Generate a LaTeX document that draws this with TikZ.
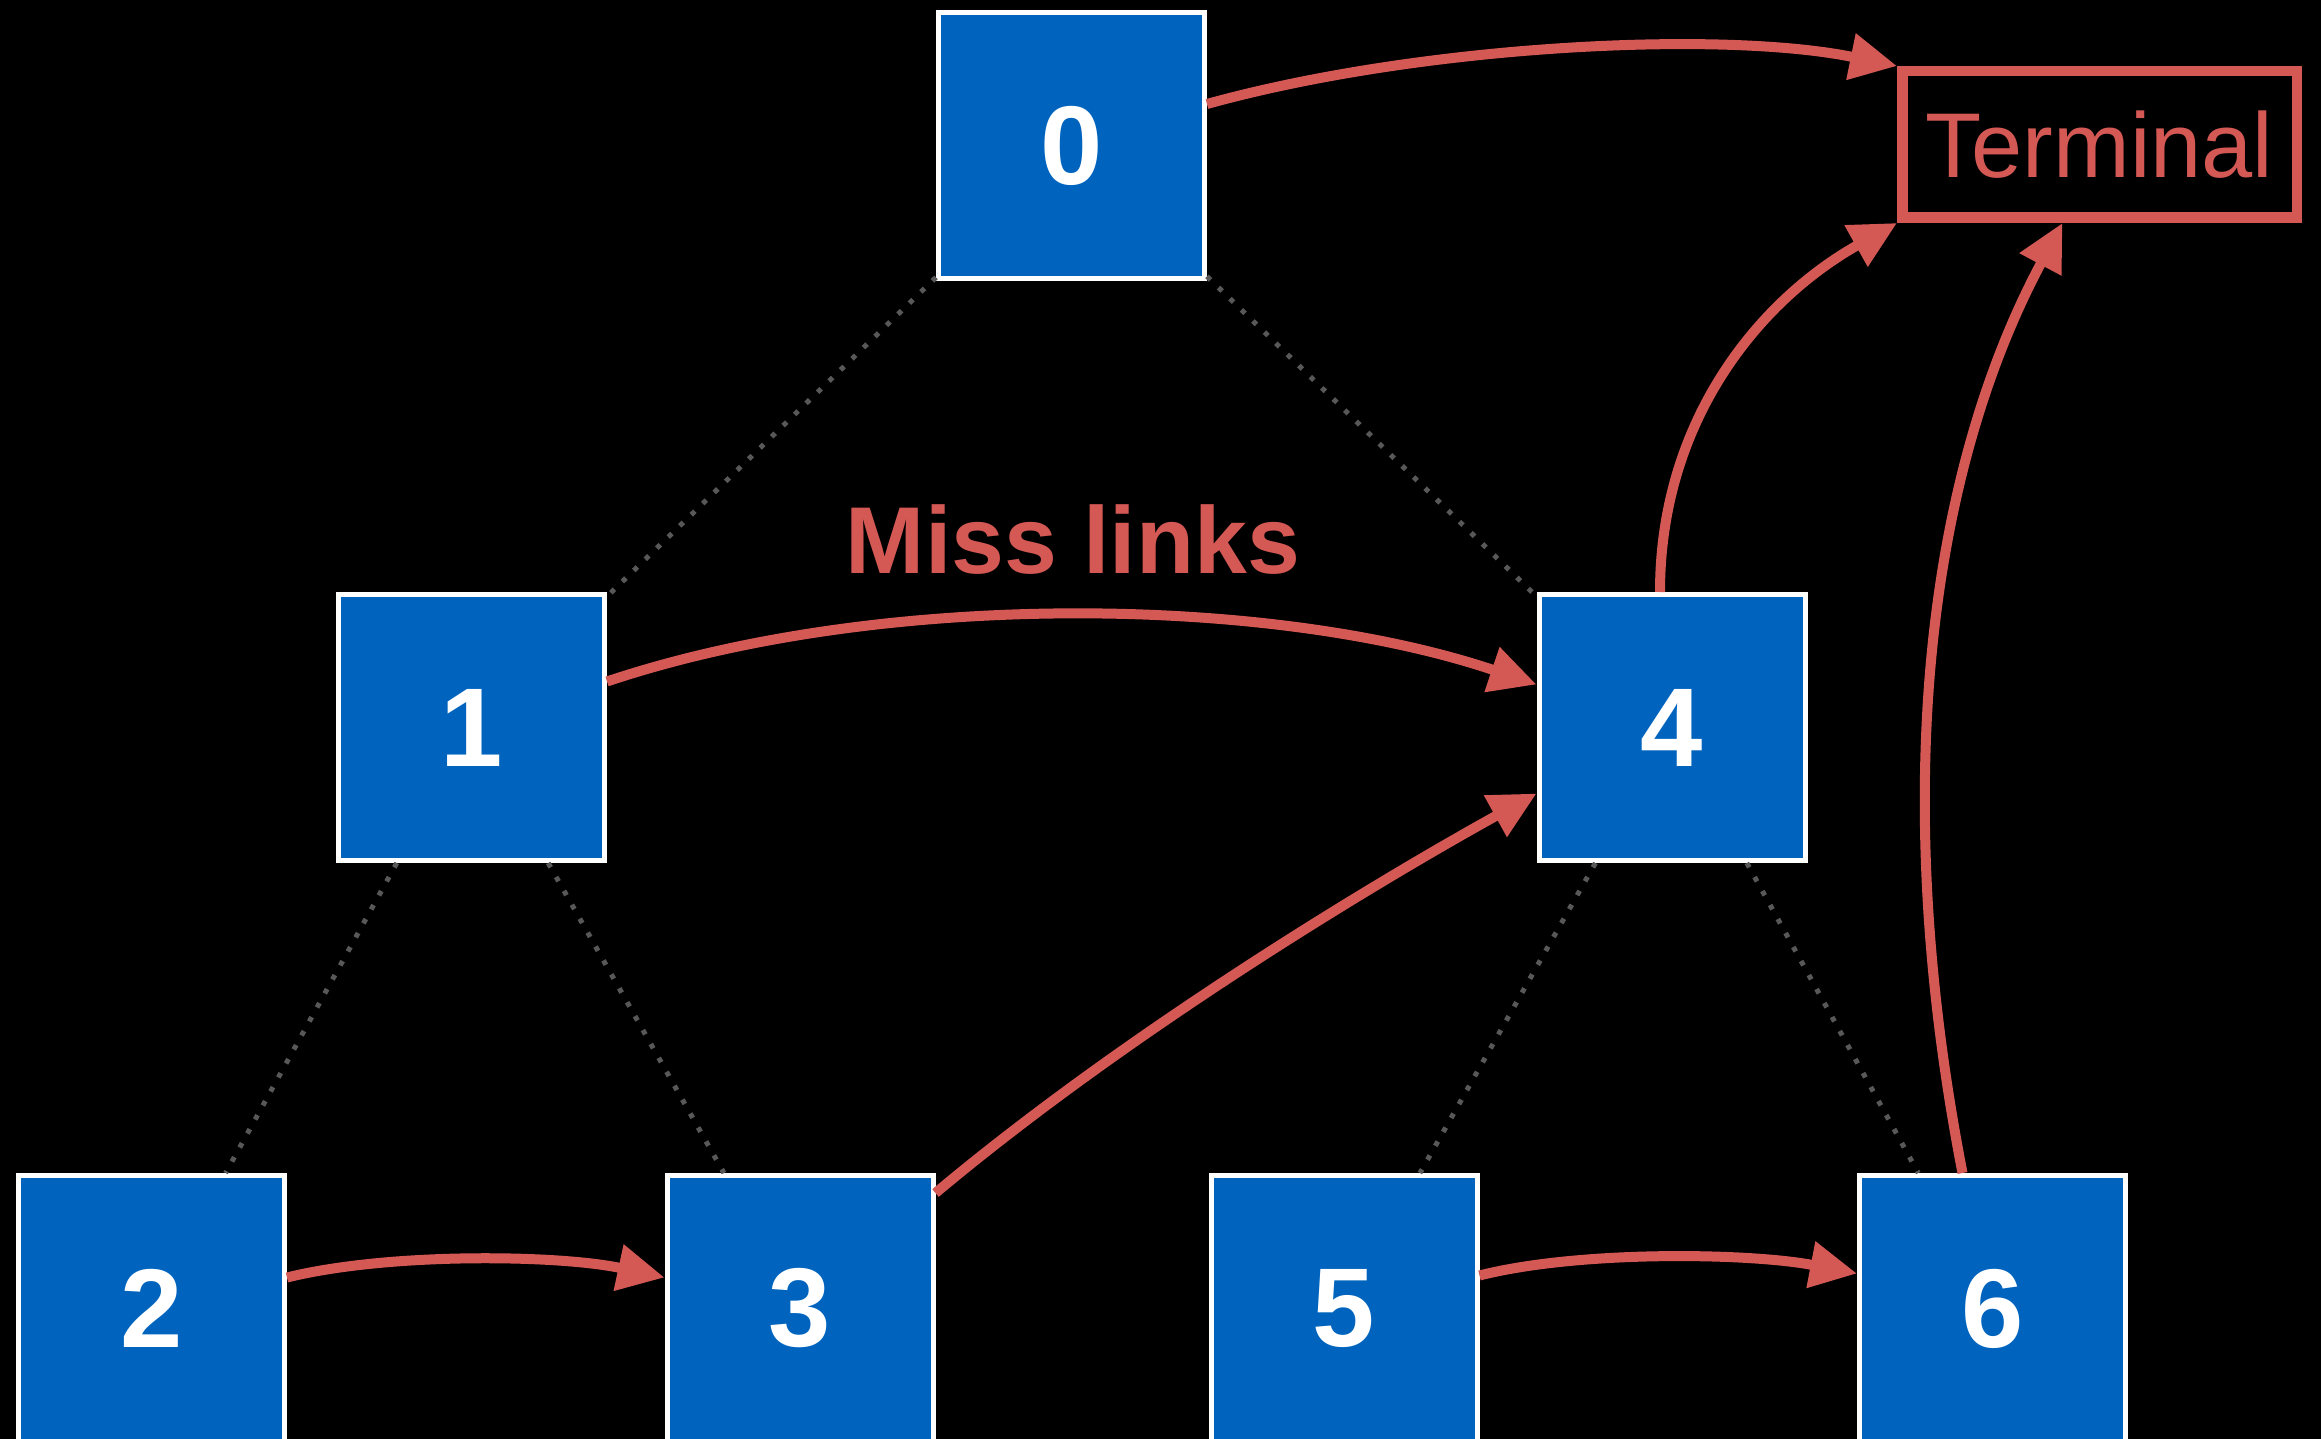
\documentclass[tikz,border=0pt]{standalone}
\usepackage{fontspec}
\setmainfont{Liberation Sans}
\usetikzlibrary{arrows.meta,calc}
\definecolor{boxblue}{RGB}{0,100,190}
\definecolor{linkred}{RGB}{212,88,84}
\definecolor{dotgray}{RGB}{88,88,88}
\begin{document}
\begin{tikzpicture}[x=1pt,y=-1pt,
  treenode/.style={draw=white, line width=5pt, fill=boxblue, minimum size=266pt, inner sep=0pt, text=white, font=\fontsize{112}{112}\selectfont\bfseries},
  treeedge/.style={dotgray, line width=5pt, dash pattern=on 5pt off 11pt},
  link/.style={linkred, line width=10pt, -{Triangle[length=47pt,width=45pt]}},
  termbox/.style={draw=linkred, line width=10.5pt, minimum width=394.5pt, minimum height=146.5pt, inner sep=0pt, text=linkred, font=\fontsize{92}{92}\selectfont},
  lbl/.style={text=linkred, font=\fontsize{95}{95}\selectfont\bfseries, anchor=base, inner sep=0pt}
]
\fill[black] (0,0) rectangle (2321,1439);
\useasboundingbox (0,0) rectangle (2321,1439);

\node[treenode] (n0) at (1071.5,146) {0};
\node[treenode] (n1) at (471.5,727.5) {1};
\node[treenode] (n4) at (1672,727.5) {4};
\node[treenode] (n2) at (151.5,1308.5) {2};
\node[treenode] (n3) at (800,1308.5) {3};
\node[treenode] (n5) at (1344,1308.5) {5};
\node[treenode] (n6) at (1992.5,1308.5) {6};
\node[termbox] (T) at (2099.5,144.5) {Terminal};
\node[lbl] (miss) at (1073,573) {Miss links};

\draw[treeedge] (n0) -- (n1);
\draw[treeedge] (n0) -- (n4);
\draw[treeedge] (n1) -- (n2);
\draw[treeedge] (n1) -- (n3);
\draw[treeedge] (n4) -- (n5);
\draw[treeedge] (n4) -- (n6);

\draw[link] ($(n0.east)+(0,-42)$) .. controls (1420,45) and (1720,30) .. (T.north west);
\draw[link] ($(n1.east)+(0,-46)$) .. controls (880,590) and (1270,595) .. ($(n4.west)+(0,-43)$);
\draw[link] ($(n3.north east)+(0,20)$) .. controls (1130,1030) and (1380,880) .. ($(n4.west)+(0,66)$);
\draw[link] ($(n2.east)+(0,-31)$) .. controls (390,1252) and (560,1255) .. ($(n3.west)+(0,-31)$);
\draw[link] ($(n5.east)+(0,-33)$) .. controls (1580,1250) and (1750,1253) .. ($(n6.west)+(0,-35)$);
\draw[link] ($(n4.north)+(-12,0)$) .. controls (1660,420) and (1760,300) .. (T.south west);
\draw[link] ($(n6.north)+(-30,0)$) .. controls (1890,800) and (1925,480) .. ($(T.south)+(-37,0)$);
\end{tikzpicture}
\end{document}
